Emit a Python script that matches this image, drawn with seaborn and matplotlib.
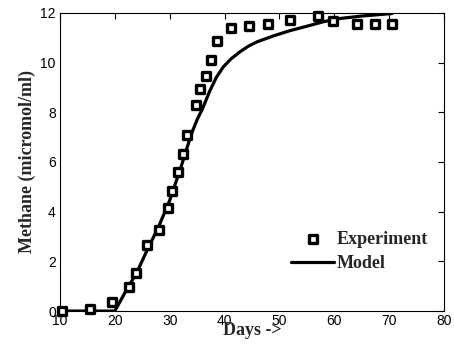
import matplotlib
matplotlib.use("Agg")
import matplotlib.pyplot as plt
import seaborn as sns
import pandas as pd

# Experimental data
exp_days = [10.3, 15.5, 19.4, 22.5, 23.9, 25.9, 28.1, 29.7, 30.4, 31.6, 32.4, 33.1,
            34.8, 35.6, 36.7, 37.6, 38.6, 41.2, 44.5, 48.0, 51.9, 57.1, 59.8, 64.2,
            67.5, 70.6]
exp_methane = [0.0, 0.08, 0.37, 0.95, 1.54, 2.65, 3.25, 4.16, 4.83, 5.58, 6.30, 7.08,
               8.29, 8.92, 9.45, 10.12, 10.87, 11.40, 11.48, 11.53, 11.71, 11.88, 11.68,
               11.53, 11.53, 11.53]

# Model curve
model_days = [10, 20.0, 22, 24, 26, 28, 30, 32, 33, 34, 35, 36, 37.3, 38.5, 39.8, 41.2,
              42.8, 44.3, 45.9, 48.9, 51.9, 55, 58, 61, 65, 70.5]
model_methane = [0, 0, 0.8, 1.55, 2.5, 3.4, 4.45, 5.75, 6.45, 7.15, 7.7, 8.15, 8.85,
                 9.4, 9.83, 10.15, 10.43, 10.65, 10.83, 11.07, 11.28, 11.46, 11.64,
                 11.77, 11.87, 11.97]

x_ticks = [10, 20, 30, 40, 50, 60, 70, 80]
y_ticks = [0, 2, 4, 6, 8, 10, 12]

sns.set_theme(style="white")
plt.rcParams['font.family'] = ['Liberation Sans', 'DejaVu Sans']

fig = plt.figure(figsize=(4.54, 3.46), dpi=100)
ax = fig.add_axes([0.132, 0.101, 0.846, 0.862])

df_exp = pd.DataFrame({"Days": exp_days, "Methane": exp_methane})
df_mod = pd.DataFrame({"Days": model_days, "Methane": model_methane})

sns.lineplot(data=df_mod, x="Days", y="Methane", ax=ax, color="black", linewidth=2.3,
             label="Model", zorder=2)
sns.scatterplot(data=df_exp, x="Days", y="Methane", ax=ax, marker="s", s=30,
                facecolor="white", edgecolor="black", linewidth=2.4, label="Experiment",
                zorder=3, clip_on=False)
for ln in ax.lines:
    ln.set_solid_joinstyle("round")

ax.set_xlim(10, 80)
ax.set_ylim(0, 12)
ax.set_xticks(x_ticks)
ax.set_yticks(y_ticks)
ax.tick_params(direction="in", top=True, right=True, length=4, width=0.8,
               labelsize=10, colors="black", pad=3)
ax.tick_params(axis="x", pad=2)
for sp in ax.spines.values():
    sp.set_color("black")
    sp.set_linewidth(0.8)

serif = ['Liberation Serif', 'DejaVu Serif']
ax.set_xlabel("Days ->", fontsize=13, fontweight="bold", family=serif, labelpad=-4)
ax.set_ylabel("Methane (micromol/ml)", fontsize=13, fontweight="bold", family=serif,
              labelpad=3)

handles, labels = ax.get_legend_handles_labels()
order = [labels.index("Experiment"), labels.index("Model")]
leg = ax.legend([handles[i] for i in order], [labels[i] for i in order],
                loc="upper left", bbox_to_anchor=(282 / 454, 1 - 222 / 346),
                bbox_transform=fig.transFigure, frameon=False, handlelength=2.4,
                handletextpad=0.1, borderpad=0, labelspacing=0.4,
                prop={"family": serif, "weight": "bold", "size": 13})

fig.savefig("out.png", dpi=100)
